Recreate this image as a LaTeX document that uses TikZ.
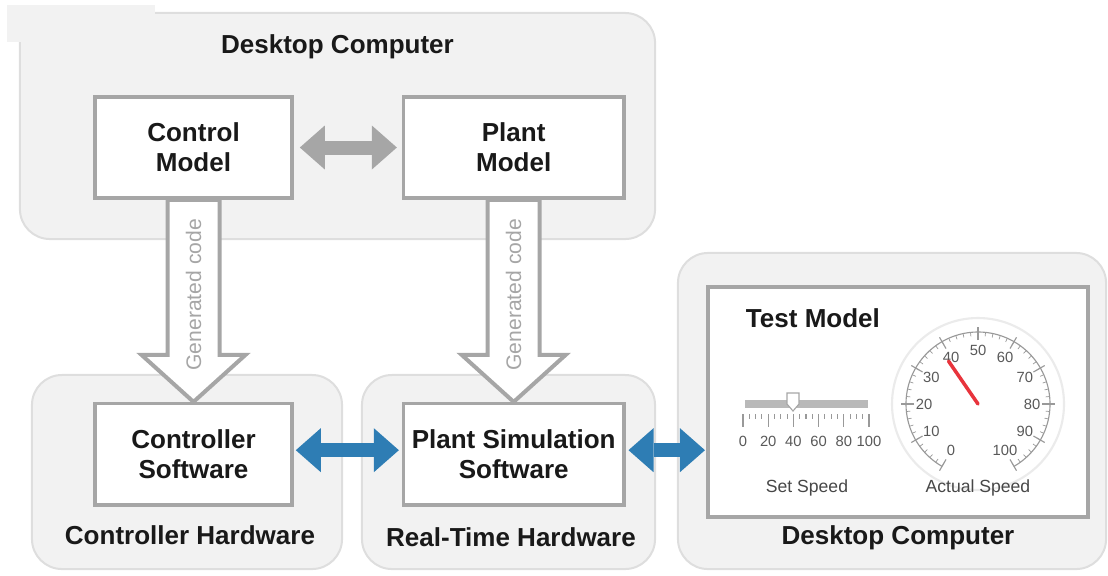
\documentclass[tikz,border=0pt]{standalone}
\usepackage{fontspec}
\setmainfont{Liberation Sans}
\usepackage{xcolor}
\usepackage{tikz}
\usetikzlibrary{positioning, arrows.meta, calc}
\definecolor{boxgray}{HTML}{F2F2F2}
\definecolor{edgegray}{HTML}{A6A6A6}
\definecolor{linkblue}{HTML}{2E7DB4}
\definecolor{needlered}{HTML}{E8343C}

\begin{document}
\begin{tikzpicture}[
    x=0.025cm, y=-0.025cm,
    container/.style={rectangle, draw=black!13, line width=0.05cm, fill=boxgray,
                      rounded corners=0.75cm},
    model/.style={rectangle, draw=edgegray, line width=0.09cm, fill=white,
                  minimum width=4.925cm, minimum height=2.525cm, align=center,
                  font=\fontsize{18.5}{21.5}\selectfont\bfseries, text=black!90},
    title/.style={font=\fontsize{18.5}{22}\selectfont\bfseries, text=black!90},
    link/.style={line width=0.35cm,
                 {Triangle[length=0.625cm, width=1.1cm, line width=0pt]}-{Triangle[length=0.625cm, width=1.1cm, line width=0pt]}},
    codearrow/.style={draw=edgegray, line width=0.1cm, fill=white, line join=miter},
    codetext/.style={font=\fontsize{15}{18}\selectfont, text=edgegray},
    dial/.style={font=\fontsize{10.5}{12}\selectfont, text=black!65, inner sep=0pt},
    caption/.style={font=\fontsize{12.5}{15}\selectfont, text=black!72},
]
\useasboundingbox (0,0) rectangle (1108,575);

% Containers
\node[container, minimum width=15.875cm, minimum height=5.65cm] (desk1) at (337.5,126) {};
\fill[boxgray] (7,5) rectangle (155,42);
\node[container, minimum width=7.75cm, minimum height=4.85cm] (ctrlhw) at (187,472) {};
\node[container, minimum width=7.325cm, minimum height=4.85cm] (rthw) at (508.5,472) {};
\node[container, minimum width=10.7cm, minimum height=7.9cm] (desk2) at (892,411) {};

% Container labels
\node[title] (desk1lbl) at ($(desk1.north)+(0,35)$) {Desktop Computer};
\node[title] (ctrlhwlbl) at (190,535) {Controller Hardware};
\node[title] (rthwlbl) at (511,537) {Real-Time Hardware};
\node[title] (desk2lbl) at (898,538) {Desktop Computer};

% Models and software
\node[model] (control) at (193.5,147.5) {Control\\Model};
\node[model, right=2.7cm of control, minimum width=5.5cm] (plant) {Plant\\Model};
\node[model, below=5.05cm of control] (ctrlsw) {Controller\\Software};
\node[model, below=5.05cm of plant, minimum width=5.5cm] (plantsw) {Plant Simulation\\Software};

% Test model panel
\node[model, minimum width=9.5cm, minimum height=5.75cm, line width=0.1cm] (testmodel) at (898,402) {};
\node[title, anchor=west] (testlbl) at (741,318) {Test Model};

% Generated code arrows
\draw[codearrow] ($(control.south)+(-26,0)$) -- ($(ctrlsw.north)+(-26,-47)$)
    -- ($(ctrlsw.north)+(-52,-47)$) -- (ctrlsw.north) -- ($(ctrlsw.north)+(52,-47)$)
    -- ($(ctrlsw.north)+(26,-47)$) -- ($(control.south)+(26,0)$) -- cycle;
\draw[codearrow] ($(plant.south)+(-26,0)$) -- ($(plantsw.north)+(-26,-47)$)
    -- ($(plantsw.north)+(-52,-47)$) -- (plantsw.north) -- ($(plantsw.north)+(52,-47)$)
    -- ($(plantsw.north)+(26,-47)$) -- ($(plant.south)+(26,0)$) -- cycle;
\node[codetext, rotate=90] (gencode1) at ($(control.south)!0.47!(ctrlsw.north)$) {Generated code};
\node[codetext, rotate=90] (gencode2) at ($(plant.south)!0.47!(plantsw.north)$) {Generated code};

% Links
\draw[link, edgegray, shorten <=0.15cm, shorten >=0.125cm] (control.east) -- (plant.west);
\draw[link, linkblue, shorten <=0.05cm, shorten >=0.075cm]
    ([yshift=0.1cm]ctrlsw.east) -- ([yshift=0.1cm]plantsw.west);
\draw[link, linkblue, shorten <=0.075cm, shorten >=0.025cm]
    ([yshift=0.1cm]plantsw.east) -- ([yshift=0.1cm]plantsw.east -| testmodel.west);

% Set speed slider
\draw[gray!55, line width=5.7pt] (745,404) -- (868,404);
\foreach \v in {0,20,...,100}
    \draw[gray!80, line width=0.8pt] ({743+1.26*\v},414) -- ({743+1.26*\v},427);
\foreach \v in {5,10,...,95}
    \draw[gray!80, line width=0.8pt] ({743+1.26*\v},414) -- ({743+1.26*\v},419);
\foreach \v in {0,20,...,100}
    \node[dial] (s\v) at ({743+1.26*\v},441) {\v};
\draw[gray!70, fill=white, line width=0.8pt] (787,393) -- (799,393) -- (799,404)
    -- (793,411) -- (787,404) -- cycle;
\node[caption] (setspeed) at (807,488) {Set Speed};

% Actual speed gauge
\coordinate (gauge) at (978,404);
\draw[black!8, line width=1.5pt] (gauge) circle (86);
\draw[gray!80, line width=0.8pt] ($(gauge)+(-240:72)$) arc[start angle=-240, end angle=60, radius=72];
\foreach \v in {0,10,...,100}
    \draw[gray!80, line width=0.8pt] ($(gauge)+({3*\v-240}:64)$) -- ($(gauge)+({3*\v-240}:77)$);
\foreach \v in {0,2,...,100}
    \draw[gray!80, line width=0.5pt] ($(gauge)+({3*\v-240}:68)$) -- ($(gauge)+({3*\v-240}:72)$);
\foreach \v in {0,10,...,100}
    \node[dial] (g\v) at ($(gauge)+({3*\v-240}:54)$) {\v};
\draw[needlered, line width=2.5pt, line cap=round] (gauge) -- ++({3*38.5-240}:52);
\node[caption] (actspeed) at (978,488) {Actual Speed};

\end{tikzpicture}
\end{document}
